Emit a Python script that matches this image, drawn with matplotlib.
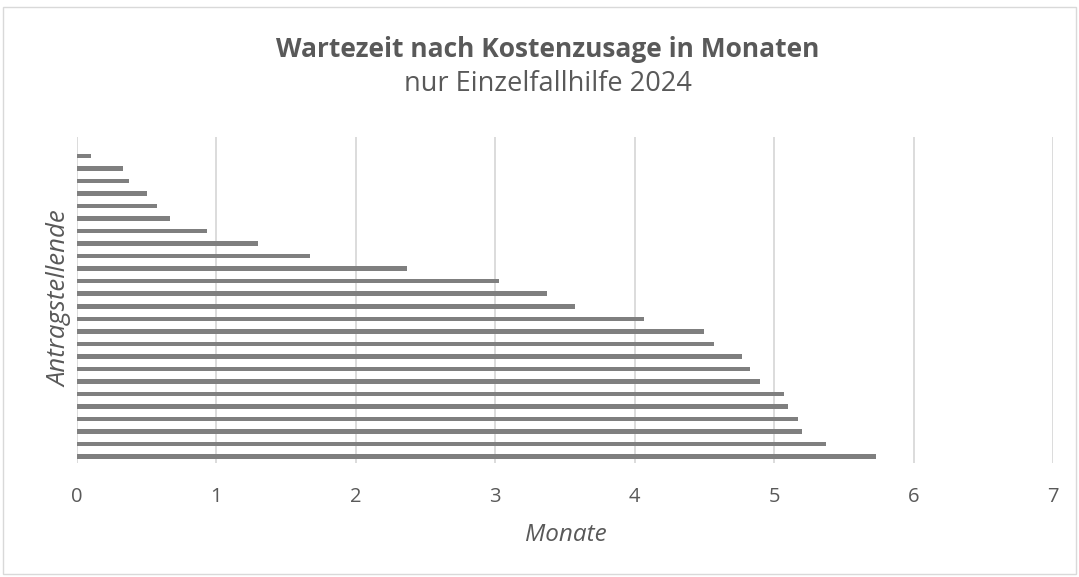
import matplotlib
matplotlib.use("Agg")
import matplotlib.pyplot as plt
from matplotlib.patches import Rectangle

plt.rcParams["font.family"] = ["Open Sans", "DejaVu Sans"]

# Wartezeit in Monaten, sortiert von oben (kurz) nach unten (lang)
wartezeit = [0.10, 0.33, 0.37, 0.50, 0.57, 0.67, 0.93, 1.30, 1.67, 2.37,
             3.03, 3.37, 3.57, 4.07, 4.50, 4.57, 4.77, 4.83, 4.90, 5.07,
             5.10, 5.17, 5.20, 5.37, 5.73]
x_ticks = [0, 1, 2, 3, 4, 5, 6, 7]

title = "Wartezeit nach Kostenzusage in Monaten"
subtitle = "nur Einzelfallhilfe 2024"
x_label = "Monate"
y_label = "Antragstellende"

grey_text = "#595959"
bar_col = "#7f7f7f"
grid_col = "#d9d9d9"

fig = plt.figure(figsize=(10.79, 5.77), dpi=100)
ax = fig.add_axes([0.0714, 0.1976, 0.9045, 0.565])

# unterster Balken = laengste Wartezeit
pos = list(range(len(wartezeit)))
ax.barh(pos, wartezeit[::-1], height=0.36, color=bar_col, zorder=3)

ax.set_xlim(0, 7)
ax.set_ylim(-0.5, len(wartezeit) + 0.5)
ax.set_xticks(x_ticks)
ax.set_xticklabels([str(t) for t in x_ticks])
ax.set_yticks([])
ax.grid(axis="x", color=grid_col, linewidth=1.3, zorder=0)
for s in ax.spines.values():
    s.set_visible(False)
ax.tick_params(axis="x", length=0, pad=17, labelsize=14.5, labelcolor=grey_text)

fig.text(0.5245, 0.0725, x_label, ha="center", va="center", fontsize=17.5,
         style="italic", color=grey_text)
fig.text(0.0556, 0.483, y_label, ha="center", va="center", fontsize=18.5,
         style="italic", color=grey_text, rotation=90)

fig.text(0.508, 0.915, title, ha="center", va="center", fontsize=19,
         fontweight="bold", color=grey_text)
fig.text(0.508, 0.855, subtitle, ha="center", va="center", fontsize=19.5,
         color=grey_text)

# heller Rahmen um das Diagramm
fig.patches.append(Rectangle((0.003, 0.006), 0.994, 0.982, transform=fig.transFigure,
                             fill=False, edgecolor=grid_col, linewidth=1))

fig.savefig("out.png", dpi=100)
